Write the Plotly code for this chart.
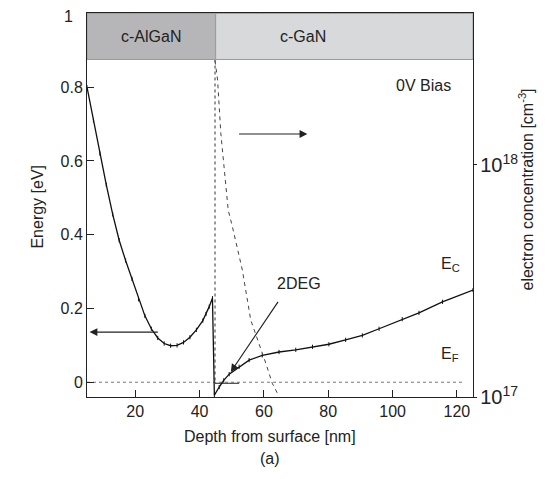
import plotly.graph_objects as go

# conduction band E_C [eV] vs depth [nm]
ec_depth = [5, 7, 9, 11, 13, 15, 17, 19, 21, 23, 25, 27, 29, 31, 33, 35, 37, 39, 41, 42, 43, 44,
            44.6, 46.1, 47.5, 49.2, 52.3, 55.4, 59.5, 64.7, 69.9, 75.1, 80.2, 85.4, 90.6, 95.8,
            103, 108.2, 115.5, 125]
ec_energy = [0.80, 0.71, 0.62, 0.535, 0.455, 0.385, 0.33, 0.28, 0.225, 0.18, 0.145, 0.12, 0.105,
             0.099, 0.10, 0.108, 0.122, 0.142, 0.167, 0.185, 0.205, 0.228,
             -0.035, -0.013, 0.005, 0.022, 0.042, 0.060, 0.073, 0.082, 0.088, 0.096, 0.103, 0.115,
             0.127, 0.145, 0.171, 0.188, 0.218, 0.25]

# electron concentration [cm^-3] (right axis, log)
n_depth = [44.8, 45.6, 46.6, 47.6, 48.9, 50.2, 53.3, 55.9, 58.5, 60.6, 62.6, 64.2]
n_conc = [10 ** v for v in [18.45, 18.366, 18.137, 17.993, 17.806, 17.734, 17.547, 17.332,
                            17.231, 17.145, 17.059, 17.016]]

# Fermi level and layers
ef_depth = [5, 122]
ef_energy = [0, 0]
interface = 44.8
layers = ["c-AlGaN", "c-GaN"]
layer_edges = [5, 45, 125]
layer_colors = ["#b6b6b8", "#d8d9db"]

fig = go.Figure()

fig.add_trace(go.Scatter(x=ef_depth, y=ef_energy, mode='lines',
                         line=dict(color='#777777', width=1, dash='3px,3px'), showlegend=False))
fig.add_trace(go.Scatter(x=[interface, interface], y=[0.875, 0], mode='lines',
                         line=dict(color='#333333', width=1, dash='3px,3px'), showlegend=False))
fig.add_trace(go.Scatter(x=[44.8, 52.3], y=[-0.003, -0.003], mode='lines',
                         line=dict(color='#555555', width=1.3), showlegend=False))
fig.add_trace(go.Scatter(x=ec_depth, y=ec_energy, mode='lines+markers',
                         line=dict(color='#111111', width=1.3),
                         marker=dict(symbol='line-ns', size=3, line=dict(color='#111111', width=1)),
                         showlegend=False))
fig.add_trace(go.Scatter(x=n_depth, y=n_conc, yaxis='y2', mode='lines',
                         line=dict(color='#444444', width=1, dash='4px,4px'), showlegend=False))

# layer band at the top
for i, name in enumerate(layers):
    fig.add_shape(type='rect', xref='x', yref='y', x0=layer_edges[i], x1=layer_edges[i + 1],
                  y0=0.875, y1=1.0, fillcolor=layer_colors[i],
                  line=dict(color='#9a9a9a', width=1), layer='above')

font = dict(family='Liberation Sans, Arial', size=16, color='#222222')
fig.add_annotation(x=25, y=0.9375, text='c-AlGaN', showarrow=False, font=font)
fig.add_annotation(x=72, y=0.9375, text='c-GaN', showarrow=False, font=font)
fig.add_annotation(x=109.7, y=0.805, text='0V Bias', showarrow=False, font=font)
fig.add_annotation(x=70.9, y=0.267, text='2DEG', showarrow=False, font=font)
fig.add_annotation(x=114.3, y=0.32, text='E<sub>C</sub>', showarrow=False, font=font, xanchor='left')
fig.add_annotation(x=114.3, y=0.075, text='E<sub>F</sub>', showarrow=False, font=font, xanchor='left')
# top tick label, nudged so it stays inside the page
fig.add_annotation(xref='paper', x=0, y=1.0, text='1', showarrow=False, font=font,
                   xanchor='right', xshift=-12, yshift=-3)

arrow = dict(showarrow=True, arrowhead=2, arrowsize=1.3, arrowwidth=1.2, arrowcolor='#222222',
             axref='x', ayref='y', text='')
fig.add_annotation(x=5.8, y=0.136, ax=27.5, ay=0.136, **arrow)
fig.add_annotation(x=73.5, y=0.673, ax=51.8, ay=0.673, **arrow)
fig.add_annotation(x=49.7, y=0.028, ax=64.7, ay=0.222, **arrow)

fig.add_annotation(xref='paper', yref='paper', x=0.474, y=-0.13, text='Depth from surface [nm]',
                   showarrow=False, font=font)
fig.add_annotation(xref='paper', yref='paper', x=0.474, y=-0.1875, text='(a)',
                   showarrow=False, font=font)
fig.add_annotation(xref='paper', yref='paper', x=-0.155, y=0.495, text='Energy [eV]',
                   textangle=-90, showarrow=False, font=font)
fig.add_annotation(xref='paper', yref='paper', x=1.168, y=0.54,
                   text='electron concentration [cm<sup>-3</sup>]',
                   textangle=-90, showarrow=False, font=font)

axis_font = dict(family='Liberation Sans, Arial', size=16, color='#222222')
# the page body has an 8px margin, so the figure is a bit smaller and shifted
fig.update_layout(
    width=552, height=463,
    margin=dict(l=79, r=87, t=5, b=74),
    plot_bgcolor='white', paper_bgcolor='white',
    xaxis=dict(range=[5, 125], tickvals=[20, 40, 60, 80, 100, 120], ticks='inside', ticklen=7,
               showline=True, linecolor='#222222', mirror='ticks', showgrid=False, zeroline=False,
               tickfont=axis_font, tickcolor='#222222', automargin=False),
    yaxis=dict(range=[-0.04, 1.001], tickvals=[0, 0.2, 0.4, 0.6, 0.8, 1], ticktext=['0', '0.2', '0.4', '0.6', '0.8', ''],
               ticks='inside', ticklen=7, showline=True, linecolor='#222222', showgrid=False,
               zeroline=False, tickfont=axis_font, tickcolor='#222222', automargin=False),
    yaxis2=dict(type='log', range=[17, 18.655], overlaying='y', side='right', dtick=1,
                exponentformat='power', showline=True, linecolor='#222222', ticks='outside',
                ticklen=3, showgrid=False, zeroline=False, tickfont=axis_font, tickcolor='#222222',
                automargin=False),
)

fig.write_html("out.html")
